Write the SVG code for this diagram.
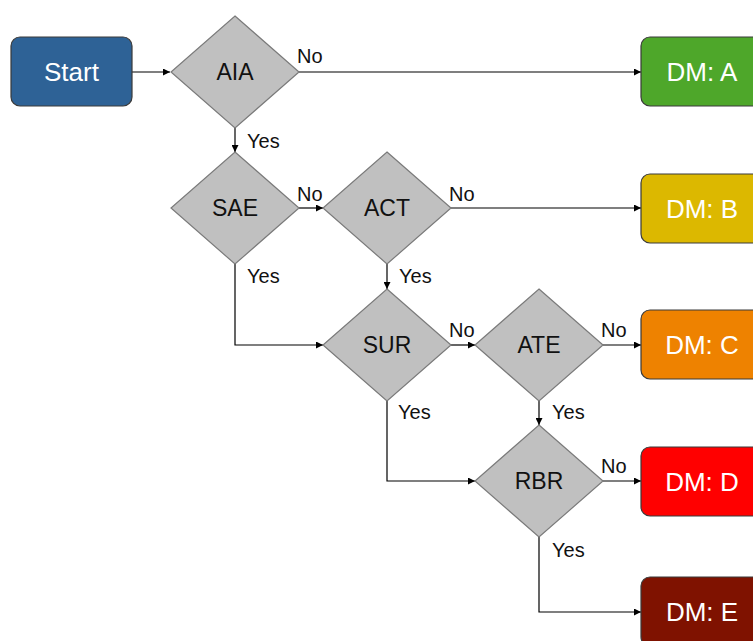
<svg xmlns="http://www.w3.org/2000/svg" width="753" height="641" viewBox="0 0 753 641">
<defs>
<marker id="arr" viewBox="0 0 10 10" refX="10" refY="5" markerWidth="9" markerHeight="7" markerUnits="userSpaceOnUse" orient="auto">
<path d="M0,0 L10,5 L0,10 z" fill="#000"/>
</marker>
<style>
.box{stroke:#3a3a3a;stroke-width:1.2}
.dia{fill:#c0c0c0;stroke:#7a7a7a;stroke-width:1.2}
.bt{font-family:"Liberation Sans",Arial,sans-serif;font-size:26px;fill:#fff;text-anchor:middle}
.dt{font-family:"Liberation Sans",Arial,sans-serif;font-size:23px;fill:#111;text-anchor:middle}
.lbl{font-family:"Liberation Sans",Arial,sans-serif;font-size:20px;fill:#111}
.c{fill:none;stroke:#000;stroke-width:1.2;marker-end:url(#arr)}
</style>
</defs>
<rect width="753" height="641" fill="#fff"/>
<g id="connectors">
<path class="c" d="M132,72 H170"/>
<path class="c" d="M299,72 H641"/>
<path class="c" d="M235,128 V152"/>
<path class="c" d="M299,208 H323"/>
<path class="c" d="M451,208 H641"/>
<path class="c" d="M387,264 V289"/>
<path class="c" d="M235,264 V345 H323"/>
<path class="c" d="M451,345 H475"/>
<path class="c" d="M603,345 H641"/>
<path class="c" d="M539,401 V425"/>
<path class="c" d="M387,401 V481 H475"/>
<path class="c" d="M603,481 H641"/>
<path class="c" d="M539,537 V612 H641"/>
<text class="lbl" x="297" y="63">No</text>
<text class="lbl" x="247" y="148">Yes</text>
<text class="lbl" x="297" y="201">No</text>
<text class="lbl" x="449" y="201">No</text>
<text class="lbl" x="247" y="283">Yes</text>
<text class="lbl" x="399" y="283">Yes</text>
<text class="lbl" x="449" y="337">No</text>
<text class="lbl" x="601" y="337">No</text>
<text class="lbl" x="398" y="419">Yes</text>
<text class="lbl" x="552" y="419">Yes</text>
<text class="lbl" x="601" y="473">No</text>
<text class="lbl" x="552" y="557">Yes</text>
</g>
<g id="start">
<rect class="box" x="11" y="37" width="121" height="69" rx="9" fill="#2e6296"/>
<text class="bt" x="71.5" y="81">Start</text>
</g>
<g id="aia">
<polygon class="dia" points="235,16 299,72 235,128 171,72"/>
<text class="dt" x="235" y="80">AIA</text>
</g>
<g id="sae">
<polygon class="dia" points="235,152 299,208 235,264 171,208"/>
<text class="dt" x="235" y="216">SAE</text>
</g>
<g id="act">
<polygon class="dia" points="387,152 451,208 387,264 323,208"/>
<text class="dt" x="387" y="216">ACT</text>
</g>
<g id="sur">
<polygon class="dia" points="387,289 451,345 387,401 323,345"/>
<text class="dt" x="387" y="353">SUR</text>
</g>
<g id="ate">
<polygon class="dia" points="539,289 603,345 539,401 475,345"/>
<text class="dt" x="539" y="353">ATE</text>
</g>
<g id="rbr">
<polygon class="dia" points="539,425 603,481 539,537 475,481"/>
<text class="dt" x="539" y="489">RBR</text>
</g>
<g id="dmA">
<rect class="box" x="641" y="37" width="121" height="69" rx="9" fill="#4ea72a"/>
<text class="bt" x="702" y="81">DM: A</text>
</g>
<g id="dmB">
<rect class="box" x="641" y="174" width="121" height="69" rx="9" fill="#dcb800"/>
<text class="bt" x="702" y="218">DM: B</text>
</g>
<g id="dmC">
<rect class="box" x="641" y="310" width="121" height="69" rx="9" fill="#ee8200"/>
<text class="bt" x="702" y="354">DM: C</text>
</g>
<g id="dmD">
<rect class="box" x="641" y="447" width="121" height="69" rx="9" fill="#ff0000"/>
<text class="bt" x="702" y="491">DM: D</text>
</g>
<g id="dmE">
<rect class="box" x="641" y="577" width="121" height="69" rx="9" fill="#7f1200"/>
<text class="bt" x="702" y="621">DM: E</text>
</g>
</svg>
